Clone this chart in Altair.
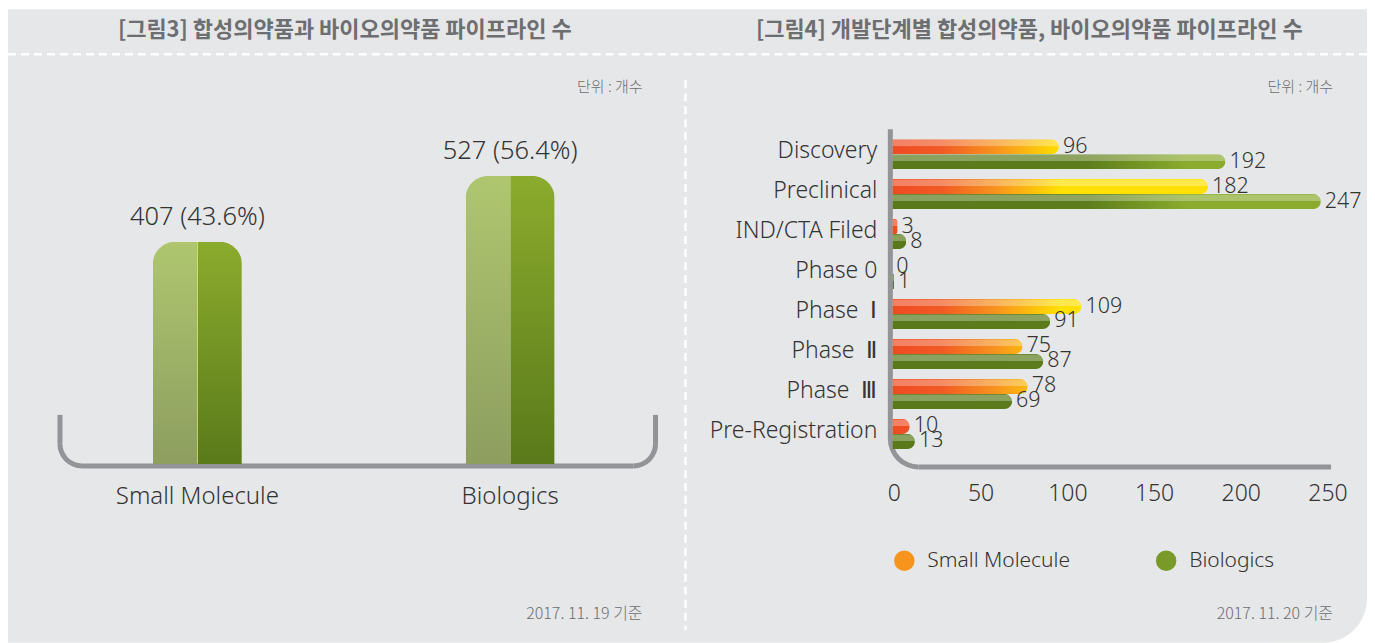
import math
import altair as alt
import pandas as pd

# ---------------- data ----------------
left_categories = ["Small Molecule", "Biologics"]
left_counts = [407, 527]
left_shares = [43.6, 56.4]

stages = ["Discovery", "Preclinical", "IND/CTA Filed", "Phase 0",
          "Phase Ⅰ", "Phase Ⅱ", "Phase Ⅲ", "Pre-Registration"]
small_molecule = [96, 182, 3, 0, 109, 75, 78, 10]
biologics = [192, 247, 8, 1, 91, 87, 69, 13]
x_ticks = [0, 50, 100, 150, 200, 250]
series_names = ["Small Molecule", "Biologics"]

title_left = "[그림3] 합성의약품과 바이오의약품 파이프라인 수"
title_right = "[그림4] 개발단계별 합성의약품, 바이오의약품 파이프라인 수"
unit_text = "단위 : 개수"
date_left = "2017. 11. 19 기준"
date_right = "2017. 11. 20 기준"

# ---------------- styles ----------------
W, H = 1360, 635
BG = "#e6e7e8"
TXT = "#333333"
SUB = "#6d6e71"
GREYLINE = "#929497"
LAT = "Noto Sans"
KR = "Noto Sans CJK KR"
NB = "\u00a0"

SM_STOPS = [(0, "#ef4a23"), (28, "#f15a24"), (60, "#f7941d"), (97, "#ffe000")]
BIO_STOPS = [(0, "#58781b"), (112, "#5d7d1c"), (170, "#8aab2d")]


def _rgb(h):
    h = h.lstrip("#")
    return [int(h[i:i + 2], 16) for i in (0, 2, 4)]


def _hex(c):
    return "#" + "".join(f"{int(round(v)):02x}" for v in c)


def color_at(stops, u):
    if u <= stops[0][0]:
        return stops[0][1]
    for (a, ca), (b, cb) in zip(stops, stops[1:]):
        if a <= u <= b:
            t = (u - a) / (b - a)
            ra, rb = _rgb(ca), _rgb(cb)
            return _hex([x + (y - x) * t for x, y in zip(ra, rb)])
    return stops[-1][1]


def bar_gradient(stops, v):
    if v <= 0:
        return {"gradient": "linear", "x1": 0, "x2": 1, "y1": 0, "y2": 0,
                "stops": [{"offset": 0, "color": stops[0][1]},
                          {"offset": 1, "color": stops[0][1]}]}
    pts = [(0.0, color_at(stops, 0))]
    pts += [(u / v, c) for u, c in stops if 0 < u < v]
    pts.append((1.0, color_at(stops, v)))
    return {"gradient": "linear", "x1": 0, "x2": 1, "y1": 0, "y2": 0,
            "stops": [{"offset": o, "color": c} for o, c in pts]}


def vgrad(top, bottom):
    return {"gradient": "linear", "x1": 0, "x2": 0, "y1": 0, "y2": 1,
            "stops": [{"offset": 0, "color": top}, {"offset": 1, "color": bottom}]}


def display_stage(s):
    if s.startswith("Phase ") and s[-1] in "ⅠⅡⅢ":
        return "Phase" + NB + NB + s[-1] + NB
    return s


# ---------------- tables ----------------
left_df = pd.DataFrame({
    "category": left_categories,
    "count": left_counts,
    "label": [f"{c} ({s}%)" for c, s in zip(left_counts, left_shares)],
})
right_df = pd.DataFrame({
    "stage": stages * 2,
    "series": [series_names[0]] * len(stages) + [series_names[1]] * len(stages),
    "value": small_molecule + biologics,
})
stage_df = pd.DataFrame({"stage": stages, "label": [display_stage(s) for s in stages]})
tick_df = pd.DataFrame({"tick": x_ticks})

# ---------------- scales ----------------
lx = alt.Scale(type="point", domain=left_categories, range=[189.5, 502.5], padding=0)
ly = alt.Scale(domain=[0, 527], range=[456, 168], nice=False)
ry = alt.Scale(type="point", domain=stages, range=[146, 426], padding=0)
rx = alt.Scale(domain=[0, 250], range=[885, 1319], nice=False)

layers = []

# background panel
layers.append(alt.Chart().mark_rect(color=BG, cornerRadiusBottomRight=44).encode(
    x=alt.value(0), x2=alt.value(W), y=alt.value(1), y2=alt.value(H)))

# header dashed line & vertical separator
layers.append(alt.Chart().mark_rule(color="white", strokeDash=[8, 5], strokeWidth=2.5).encode(
    x=alt.value(0), x2=alt.value(W), y=alt.value(46)))
layers.append(alt.Chart().mark_rule(color="white", strokeDash=[8, 5], strokeWidth=2.5).encode(
    x=alt.value(678), y=alt.value(72), y2=alt.value(622)))

# titles
for t, cx in [(title_left, 337), (title_right, 1022)]:
    layers.append(alt.Chart().mark_text(text=t, font=KR, fontWeight="bold", fontSize=22,
                                        color=SUB, baseline="middle", align="center").encode(
        x=alt.value(cx), y=alt.value(22)))

# unit & date notes
for t, rx_, yy, fs in [(unit_text, 635, 79, 15), (unit_text, 1326, 79, 15),
                       (date_left, 635, 606, 16), (date_right, 1326, 606, 16)]:
    layers.append(alt.Chart().mark_text(text=t, font=KR, fontSize=fs, color=SUB,
                                        fontWeight=300,
                                        baseline="middle", align="right").encode(
        x=alt.value(rx_), y=alt.value(yy)))

# ---- left bracket ----
def rule_h(x1, x2, y):
    return alt.Chart().mark_rule(color=GREYLINE, strokeWidth=5, strokeCap="butt").encode(
        x=alt.value(x1), x2=alt.value(x2), y=alt.value(y))


def rule_v(x, y1, y2):
    return alt.Chart().mark_rule(color=GREYLINE, strokeWidth=5, strokeCap="butt").encode(
        x=alt.value(x), y=alt.value(y1), y2=alt.value(y2))


def corner(cx, cy, r, t1, t2):
    return alt.Chart().mark_arc(color=GREYLINE, radius=r + 2.5, radius2=r - 2.5,
                                theta=t1, theta2=t2).encode(x=alt.value(cx), y=alt.value(cy))


layers += [rule_v(52, 407, 436), corner(74, 436, 22, math.pi, 1.5 * math.pi),
           rule_h(74, 626, 458), corner(626, 436, 22, 0.5 * math.pi, math.pi),
           rule_v(648, 407, 436)]

# ---- right L axis ----
layers += [rule_v(883, 121, 431), corner(911, 431, 28, math.pi, 1.5 * math.pi),
           rule_h(911, 1324, 459)]

# ---- left bars ----
lbase = alt.Chart(left_df).encode(
    x=alt.X("category:N", scale=lx, axis=None),
    y=alt.Y("count:Q", scale=ly, axis=None))
layers.append(lbase.mark_bar(size=44.5, xOffset=-22.25, cornerRadiusTopLeft=24,
                             color=vgrad("#afc66f", "#8d9e5f")))
layers.append(lbase.mark_bar(size=44.5, xOffset=22.25, cornerRadiusTopRight=24,
                             color=vgrad("#8bab2d", "#5a7a1b")))
layers.append(lbase.mark_text(dy=-17, baseline="alphabetic", align="center", font=LAT,
                              fontSize=25.5, fontWeight=300, color=TXT).encode(text="label:N"))
layers.append(alt.Chart(left_df).mark_text(baseline="middle", align="center", font=LAT,
                                           fontSize=24, fontWeight=300, color=TXT).encode(
    x=alt.X("category:N", scale=lx, axis=None), y=alt.value(489), text="category:N"))

# ---- right bars ----
offsets = {series_names[0]: -7.5, series_names[1]: 7.5}
stops_for = {series_names[0]: SM_STOPS, series_names[1]: BIO_STOPS}
values_for = {series_names[0]: small_molecule, series_names[1]: biologics}
for s in series_names:
    for st, v in zip(stages, values_for[s]):
        layers.append(alt.Chart(right_df).transform_filter(
            (alt.datum.stage == st) & (alt.datum.series == s)
        ).mark_bar(size=15, yOffset=offsets[s], cornerRadiusEnd=7.5,
                   color=bar_gradient(stops_for[s], v)).encode(
            x=alt.X("value:Q", scale=rx, axis=None),
            y=alt.Y("stage:N", scale=ry, axis=None)))
    # lighter top half
    layers.append(alt.Chart(right_df).transform_filter(alt.datum.series == s).mark_bar(
        size=7, yOffset=offsets[s] - 3.75, cornerRadiusTopRight=7, color="white",
        opacity=0.3).encode(
        x=alt.X("value:Q", scale=rx, axis=None),
        y=alt.Y("stage:N", scale=ry, axis=None)))
    layers.append(alt.Chart(right_df).transform_filter(alt.datum.series == s).mark_text(
        align="left", baseline="middle", dx=4, dy=offsets[s], font=LAT, fontSize=21.5,
        fontWeight=300, color=TXT).encode(
        x=alt.X("value:Q", scale=rx, axis=None),
        y=alt.Y("stage:N", scale=ry, axis=None),
        text="value:Q"))

# stage labels
layers.append(alt.Chart(stage_df).mark_text(align="right", baseline="middle", dy=-3,
                                            font=LAT, fontSize=23, fontWeight=300,
                                            color=TXT).encode(
    x=alt.value(870), y=alt.Y("stage:N", scale=ry, axis=None), text="label:N"))

# x tick labels
layers.append(alt.Chart(tick_df).mark_text(align="center", baseline="middle", font=LAT,
                                           fontSize=23, fontWeight=300, dx=2,
                                           color=TXT).encode(
    x=alt.X("tick:Q", scale=rx, axis=None), y=alt.value(486), text="tick:Q"))

# legend
legend_colors = ["#f7941d", "#799a29"]
for s, c, px in zip(series_names, legend_colors, [897, 1159]):
    ldf = pd.DataFrame({"series": [s]})
    layers.append(alt.Chart(ldf).mark_point(filled=True, shape="circle", size=420,
                                            color=c, opacity=1).encode(
        x=alt.value(px), y=alt.value(553)))
    layers.append(alt.Chart(ldf).mark_text(align="left", baseline="middle", font=LAT,
                                           fontSize=21, fontWeight=300, color=TXT).encode(
        x=alt.value(px + 23), y=alt.value(553), text="series:N"))

chart = alt.layer(*layers).resolve_scale(x="independent", y="independent").properties(
    width=W, height=H, padding=0, autosize=alt.AutoSizeParams(type="none"),
    background="white",
).configure_view(stroke=None)

chart.save("out.html", embed_options={"renderer": "svg", "actions": False})
